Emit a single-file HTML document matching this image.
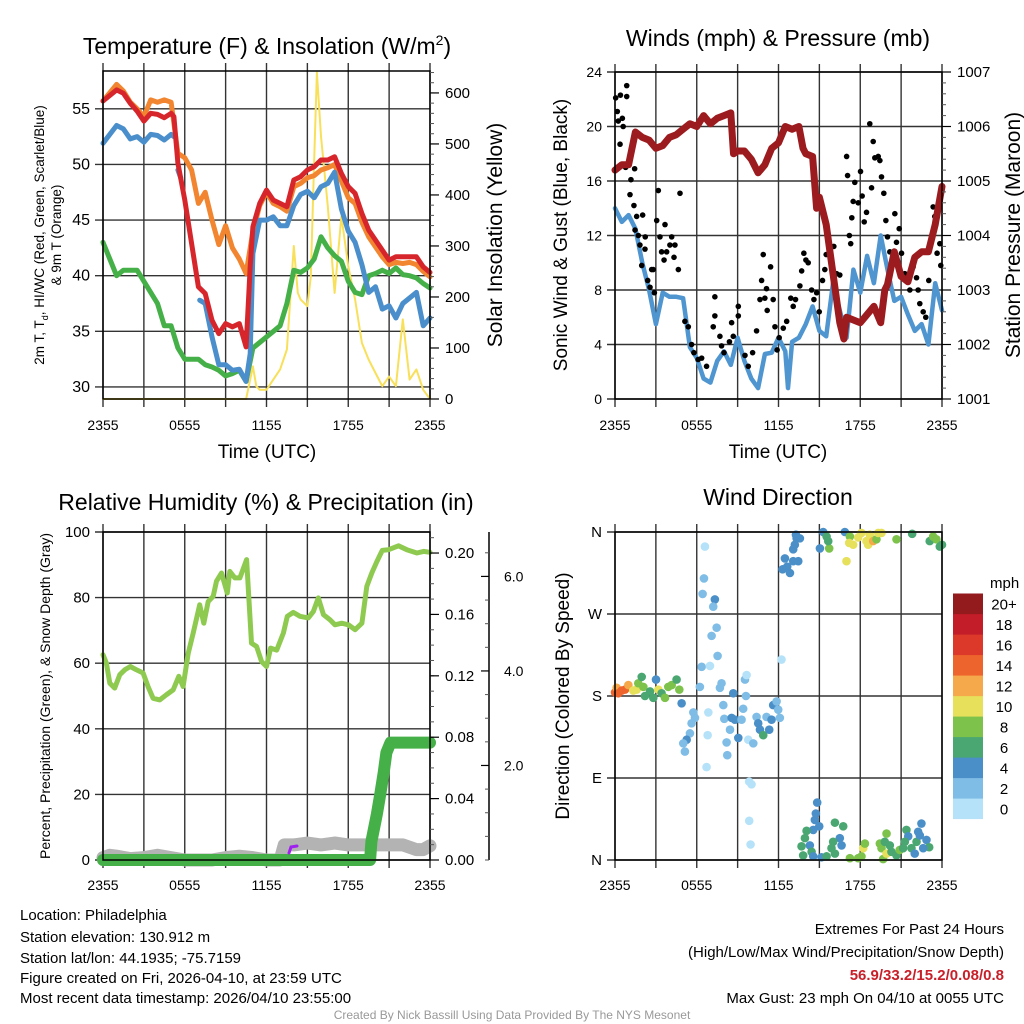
<!DOCTYPE html>
<html><head><meta charset="utf-8">
<style>
html,body{margin:0;padding:0;background:#fff;}
svg{display:block;font-family:"Liberation Sans",sans-serif;}
</style></head>
<body>
<svg id="chart" width="1024" height="1024" viewBox="0 0 1024 1024" xmlns="http://www.w3.org/2000/svg">
<rect width="1024" height="1024" fill="#fff"/>
<!-- titles -->
<text x="267" y="54" font-size="23" text-anchor="middle">Temperature (F) &amp; Insolation (W/m<tspan dy="-9" font-size="14">2</tspan><tspan dy="9">)</tspan></text>
<text x="778" y="46" font-size="23" text-anchor="middle">Winds (mph) &amp; Pressure (mb)</text>
<text x="266" y="510" font-size="23" text-anchor="middle">Relative Humidity (%) &amp; Precipitation (in)</text>
<text x="778" y="505" font-size="23" text-anchor="middle">Wind Direction</text>
<!-- axis titles -->
<text transform="translate(44,235) rotate(-90)" font-size="13.5" text-anchor="middle">2m T, T<tspan dy="4" font-size="9">d</tspan><tspan dy="-4">, HI/WC (Red, Green, Scarlet/Blue)</tspan></text>
<text transform="translate(61,235) rotate(-90)" font-size="13.5" text-anchor="middle">&amp; 9m T (Orange)</text>
<text transform="translate(502,235) rotate(-90)" font-size="21" text-anchor="middle">Solar Insolation (Yellow)</text>
<text transform="translate(567,235) rotate(-90)" font-size="19" text-anchor="middle">Sonic Wind &amp; Gust (Blue, Black)</text>
<text transform="translate(1020,235) rotate(-90)" font-size="21" text-anchor="middle">Station Pressure (Maroon)</text>
<text transform="translate(50,696) rotate(-90)" font-size="14" text-anchor="middle">Percent, Precipitation (Green), &amp; Snow Depth (Gray)</text>
<text transform="translate(569,696) rotate(-90)" font-size="19" text-anchor="middle">Direction (Colored By Speed)</text>
<text x="267" y="458" font-size="19" text-anchor="middle">Time (UTC)</text>
<text x="778" y="458" font-size="19" text-anchor="middle">Time (UTC)</text>
<!-- footer -->
<g font-size="15">
<text x="20" y="920">Location: Philadelphia</text>
<text x="20" y="942">Station elevation: 130.912 m</text>
<text x="20" y="963">Station lat/lon: 44.1935; -75.7159</text>
<text x="20" y="983">Figure created on Fri, 2026-04-10, at 23:59 UTC</text>
<text x="20" y="1003">Most recent data timestamp: 2026/04/10 23:55:00</text>
</g>
<g font-size="15" text-anchor="end">
<text x="1004" y="934">Extremes For Past 24 Hours</text>
<text x="1004" y="957">(High/Low/Max Wind/Precipitation/Snow Depth)</text>
<text x="1004" y="980" fill="#c8202a" font-weight="bold">56.9/33.2/15.2/0.08/0.8</text>
<text x="1004" y="1003">Max Gust: 23 mph On 04/10 at 0055 UTC</text>
</g>
<text x="512" y="1019" font-size="12" fill="#999" text-anchor="middle">Created By Nick Bassill Using Data Provided By The NYS Mesonet</text>
<g id="layer"></g>
</svg>
<script>
// ---------- data ----------
const xTickLabels = ["2355","0555","1155","1755","2355"];
const xTickHours = [0,6,12,18,24];
const tempTicks = [30,35,40,45,50,55];
const solarTicks = [0,100,200,300,400,500,600];
const windTicks = [0,4,8,12,16,20,24];
const presTicks = [1001,1002,1003,1004,1005,1006,1007];
const rhTicks = [0,20,40,60,80,100];
const precipTicks = [0.00,0.04,0.08,0.12,0.16,0.20];
const snowTicks = [2.0,4.0,6.0];
const dirTicks = [0,90,180,270,360];
const dirLabels = ["N","E","S","W","N"];
const speedBins = ["0","2","4","6","8","10","12","14","16","18","20+"];
const speedColors = ["#b5e2f8","#7fbde6","#4a8fc7","#4aa771","#7cc24b","#e6e05a","#f6a94a","#ee642d","#dd392b","#c21d29","#931a1d"];

const redH = [0,1,1.5,2,2.5,3,3.5,4,4.5,5,5.2,5.5,6,6.5,7,7.5,8,8.5,9,9.5,10,10.5,10.8,11,11.5,12,12.5,13,13.5,14,14.5,15,15.5,16,16.5,17,17.5,18,18.5,19,19.5,20,20.5,21,21.5,22,22.5,23,23.5,24];
const redV = [55.7,56.7,56.4,55.5,54.8,53.9,54.6,54.5,54.2,54.6,54.3,50.1,46.8,42.9,39,38.4,36,34.8,35.7,35.4,35.7,33.6,40.8,44.4,46.5,47.7,46.8,46.5,46.2,48.6,48.9,49.5,49.8,50.4,50.4,50.7,49.2,48,47.4,45.6,44.1,43.2,42.3,41.4,41.7,41.7,41.7,41.7,40.8,40.3];
const orangeH = [0,1,1.5,2,2.5,3,3.5,4,4.5,5,5.5,6,6.5,7,7.5,8,8.5,9,9.5,10,10.5,11,11.5,12,12.5,13,13.5,14,14.5,15,15.5,16,16.5,17,17.5,18,18.5,19,19.5,20,20.5,21,21.5,22,22.5,23,23.5,24];
const orangeV = [55.7,57.2,56.6,55.6,55.0,54.3,55.8,55.6,55.8,55.6,51,50.6,49.5,46.5,47.5,45,42.8,44.5,42.5,41.5,40.2,44,46.3,47.5,46.5,46.2,45.8,48,48.3,48.8,49,49.5,49.7,50,48.5,47,46.5,44.8,43.5,42.6,41.7,41,41.2,41.1,41.2,41,40.4,39.9];
const blueH = [0,1,1.5,2,2.5,3,3.5,4,4.5,5,5.2,5.4,5.5,5.7,5.8,7.1,7.5,8,8.5,9,9.5,10,10.5,10.8,11,11.5,12,12.5,13,13.5,14,14.5,15,15.5,16,16.5,17,17.5,18,18.5,19,19.5,20,20.5,21,21.5,22,22.5,23,23.5,24];
const blueV = [51.9,53.5,53.2,52.3,52.5,52,52.7,52.6,52.2,52.7,52.5,null,49.5,48.8,null,37.8,37.5,34.5,32,32,31.5,31.6,30.5,33,42,45,45,45.3,44.5,44.5,46.3,47.3,47.6,47,48,48.3,49.3,46,44,43,41,38.5,39,37,37.3,36.2,37.5,38,38.5,35.5,36.2];
const greenH = [0,0.5,1,1.5,2,2.5,3,3.5,4,4.5,5,5.5,6,6.5,7,7.5,8,8.5,9,9.5,10,10.5,11,11.5,12,12.5,13,13.5,14,14.5,15,15.5,16,16.5,17,17.5,18,18.5,19,19.5,20,20.5,21,21.5,22,22.5,23,23.5,24];
const greenV = [43,41.5,40,40.5,40.5,40.5,39.5,38.5,37.5,35.5,35.5,33.5,32.5,32.5,32.5,32,31.8,31.5,31,31.2,31.5,30.5,33.5,34,34.5,35,35.5,37.5,40.5,40.3,40.7,41.5,43.5,42.5,41.8,41.3,39.5,38.5,38.3,40,40.2,40.5,40.2,40.7,40.1,40,39.8,39.3,38.9];
const solarH = [0,10.5,11,11.25,11.5,12,12.5,13,13.5,14,14.3,14.5,15,15.25,15.5,15.7,16,16.5,17,17.5,18,18.5,19,19.5,20,20.5,21,21.5,22,22.5,23,23.5,24];
const solarV = [0,0,64,25,18,18,38,58,97,300,208,195,182,240,470,640,515,378,208,358,260,195,110,77,51,25,44,25,156,38,58,18,0];

const presH = [0,0.5,1,1.5,2,2.5,3,3.5,4,4.5,5,5.5,6,6.5,7,7.5,8,8.5,8.7,9,9.5,10,10.5,11,11.5,12,12.5,13,13.5,13.8,14,14.5,14.8,15,15.5,16,16.5,16.8,17,17.5,18,18.5,19,19.5,19.8,20,20.5,21,21.5,22,22.5,23,23.5,24];
const presV = [1005.2,1005.3,1005.3,1005.9,1005.8,1005.75,1005.6,1005.65,1005.8,1005.85,1005.95,1006.05,1006.0,1006.2,1006.05,1006.15,1006.2,1006.25,1005.5,1005.55,1005.55,1005.4,1005.15,1005.3,1005.6,1005.7,1006.0,1005.95,1006.0,1005.6,1005.5,1005.45,1004.5,1004.7,1004.2,1003.3,1002.4,1002.1,1002.5,1002.45,1002.4,1002.55,1002.7,1002.4,1003.0,1003.1,1003.7,1003.25,1003.15,1003.6,1003.7,1003.7,1004.2,1004.9];
const windH = [0,0.5,1,1.5,2,2.5,3,3.5,4,4.5,5,5.5,6,6.5,7,7.5,8,8.5,9,9.5,10,10.5,11,11.5,12,12.5,12.7,13,13.5,14,14.5,15,15.5,16,16.5,17,17.5,18,18.5,19,19.5,20,20.5,21,21.5,22,22.5,23,23.5,24];
const windV = [14,13,13.5,12.5,10,8,5.5,7.8,7.5,7.5,7.4,3.8,3,1.5,1.2,2.8,3.5,2.5,4.5,2.8,1.5,0.8,3.3,3.4,4.5,3.5,0.8,4.2,4.5,5.5,6.8,5,4.6,8.5,6.5,4.5,9.5,7.8,10.5,8.5,12,9.5,7.2,7.5,6.2,5,5.5,4,8.5,6.5];
const gustH = [0.05,0.17,0.24,0.4,0.54,0.6,0.37,0.86,0.86,0.78,1.17,1.1,1.39,1.44,1.59,2.03,1.47,1.71,1.83,2.22,2.2,1.96,2.4,2.57,2.69,2.81,2.89,3.06,3.18,3.3,3.42,3.6,3.67,3.79,4.03,4.16,4.33,4.4,4.65,4.77,5.13,5.38,5.62,5.79,6.1,6.36,6.72,7.21,7.33,7.33,7.7,7.82,8,8.4,8.56,8.68,9.05,9.05,9.54,9.78,10.1,10.39,10.64,10.76,10.88,11,11.12,11.17,11.42,11.61,11.74,11.9,12.05,12.35,12.6,12.9,13.08,13.25,13.57,13.7,13.86,14.01,14.18,14.43,14.6,14.8,14.99,15.23,15.4,15.5,15.65,15.9,16.06,16.26,16.5,17,17.07,17.2,17.3,17.38,17.48,17.6,17.85,18.02,18.14,18.29,18.46,18.7,18.83,18.95,19.07,19.32,19.44,19.56,19.73,19.88,20,20.17,20.54,20.66,20.86,21.03,21.27,21.64,21.88,22.13,22.25,22.37,22.62,22.81,23.03,23.35,23.47,23.64,23.84,23.91];
const gustV = [22.1,21.1,20.4,22.3,20.6,20,18.7,23,22.2,17,16.1,15,14.2,16.9,13.4,13.5,12.4,12,11.3,11.9,11,9.8,8.7,8.2,9.5,9.5,7.8,13.1,15.3,11.9,10.8,10.2,12.8,10.8,11.3,11.9,10.4,11.3,9.5,15.1,5.7,5.3,4,3.4,2.9,3,2.4,5.3,7.5,6.1,4.6,3.9,3.4,4.2,5.6,4.6,6.1,6.8,3.2,2.4,3.4,5,7.3,8.7,10.6,7.4,8.1,6.5,9.7,7.3,5.3,3.6,4.5,5.2,5.7,7.4,6.8,7.3,8.3,9.4,10.7,10.2,10,8,7.3,7.8,6.4,8.7,9.5,10.6,11.5,10.1,11.2,9.2,9.1,17.8,16.4,12,11.4,13.3,14.5,15.9,14.4,16.7,14.9,13,13.7,20.2,15.5,18.9,17.7,17.8,17.5,16.3,15.1,13.1,11.9,10.8,13.6,11.5,12.5,10.7,9.2,8,9.7,8.9,8,7,6.4,6,8.7,14.1,13.4,10.7,11.4,9.8];

const rhH = [0,0.25,0.5,0.86,1.23,1.6,2.0,2.45,2.94,3.3,3.68,4.17,4.66,5.15,5.56,5.88,6.25,6.62,7.1,7.4,7.72,8.09,8.33,8.7,9.12,9.31,9.68,10.05,10.54,10.9,11.27,11.64,12.0,12.3,12.75,13.24,13.53,13.97,14.46,15.07,15.44,15.8,16.18,16.67,17.03,17.52,18.01,18.5,19.0,19.36,19.73,20.1,20.5,20.96,21.69,22.3,23.04,23.53,24];
const rhV = [62.6,60,53.9,52.4,56.5,58,59,58,57,52.9,49.3,48.8,50.4,51.9,56,52.9,63,69.2,77.8,72.2,78.8,80.4,85,87.5,81.4,88,86,86,91.6,66.1,65.1,60.5,59,64.6,64,69.2,74.3,75.5,74.3,73.8,75.8,79.9,74.8,73.2,71.7,72.2,71.7,70.2,72.2,83.4,87.5,91,94.4,94.6,95.8,94.6,93.6,94.1,93.8];
const precipH = [0,19.6,19.7,20.1,20.35,20.6,20.8,21.1,24];
const precipV = [0,0,0.012,0.03,0.043,0.057,0.07,0.0765,0.0765];
const snowH = [0,0.5,1,2,3,4,5,6,7,8,9,10,11,12,13,13.3,14,15,16,17,18,19,20,21,22,23,23.5,24];
const snowV = [0.05,0.1,0.08,0.03,0.05,0.1,0.05,0,0,0,0.05,0.08,0.05,0,0,0.32,0.32,0.36,0.32,0.36,0.32,0.32,0.32,0.32,0.32,0.22,0.22,0.3];

const dirH = [0,0.12,0.24,0.49,0.73,0.98,1.34,1.59,1.71,1.96,2.08,2.2,2.57,2.81,3.01,3.18,3.42,3.67,3.91,4.16,4.52,4.72,4.89,
6.23,6.36,6.97,6.85,6.8,6.72,5.75,5.87,5.62,5.5,5.26,5.01,5.13,6.6,6.53,6.43,7.33,7.21,7.46,7.09,7.53,7.82,7.7,7.95,8.02,8.56,8.44,8.19,8.24,8.68,8.8,9.05,9.29,9.41,9.54,9.66,9.61,9.78,10.15,10.39,10.51,10.64,10.88,11.12,11.32,11.49,11.61,11.86,12.1,11.98,12.22,9.85,10.02,9.85,9.95,
12.47,12.3,12.64,12.84,13.08,13.45,13.08,13.2,13.33,13.57,13.28,
15.28,15.04,15.53,15.72,15.65,16.87,16.99,17.24,17.19,17.48,17.85,18.09,18.46,18.58,18.7,18.95,19.19,19.32,19.56,20.66,21.81,23.1,23.35,23.59,23.84,24,
14.84,14.74,14.67,14.99,14.55,14.06,13.94,14.3,13.69,14.43,13.81,14.55,15.16,15.53,16.14,16.75,16.5,16.63,16.01,15.89,16.14,17.24,17.85,18.09,18.22,18.34,19.44,19.56,19.68,19.93,19.8,20.17,19.93,20.29,20.66,20.9,21.15,21.39,21.52,21.27,21.76,22.0,22.13,22.25,22.49,22.37,22.86,23.06,22.62];
const dirDeg = [184,189,183,186,187,192,186,187,194,201,190,180,185,178,198,187,183,178,190,192,198,187,172,
190,212,213,162,137,102,162,156,150,139,132,128,119,344,309,292,286,278,255,246,224,194,189,170,155,156,143,129,115,183,154,134,154,166,198,203,180,132,128,157,150,143,137,157,143,154,170,174,156,165,220,86,83,43,17,
331,319,322,315,328,328,341,346,353,353,357,
360,342,355,342,350,360,328,355,348,346,354,359,350,346,357,350,352,359,359,352,358,350,355,352,344,346,
63,51,44,37,33,32,24,16,15,9,5,4,3,4,41,37,24,16,20,13,7,2,2,4,13,18,18,13,1,29,20,16,7,9,5,11,13,33,26,20,13,7,20,31,40,27,22,14,13];
const dirSpd = [14,12,14,14,14,12,10,10,8,6,8,6,6,6,4,10,6,8,8,8,6,8,4,
2,2,0,0,0,0,2,2,2,2,4,2,2,0,2,2,4,2,2,2,2,2,2,2,2,4,2,2,2,4,4,4,2,2,2,0,2,0,2,2,4,4,6,2,4,4,4,2,2,2,0,0,0,0,0,
4,4,4,4,4,4,4,4,4,4,4,
4,4,6,8,6,4,10,8,10,10,10,10,10,10,10,12,8,10,10,8,6,6,8,8,6,6,
4,4,4,4,4,6,6,4,6,6,6,4,4,6,6,6,4,4,6,6,6,8,8,8,10,8,8,8,8,8,6,6,10,6,6,8,6,6,4,6,6,4,6,4,4,4,4,6,4];

// ---------- drawing ----------
const NS = "http://www.w3.org/2000/svg";
const layer = document.getElementById("layer");
function el(tag, attrs, parent) {
  const e = document.createElementNS(NS, tag);
  for (const k in attrs) e.setAttribute(k, attrs[k]);
  (parent || layer).appendChild(e);
  return e;
}
const P1 = {x0:103,x1:430,y0:71,y1:399};
const P2 = {x0:615,x1:942,y0:72,y1:399};
const P3 = {x0:103,x1:430,y0:532,y1:860};
const P4 = {x0:615,x1:942,y0:532,y1:860};
function xScale(p, h) { return p.x0 + h / 24 * (p.x1 - p.x0); }
function yScale(p, v, lo, hi) { return p.y1 - (v - lo) / (hi - lo) * (p.y1 - p.y0); }
const TEMP = [28.92, 58.4], SOLAR = [0, 643], WIND = [0, 24], PRES = [1001, 1007];
const RH = [0, 100], PRECIP = [0, 0.2137], SNOW = [0, 6.94], DIR = [0, 360];

function grid(p, yVals, lo, hi, name) {
  const g = el("g", {});
  
  
  for (let i = 0; i <= 8; i++) {
    const x = xScale(p, i * 3);
    el("line", {x1:x, y1:p.y0 - 8, x2:x, y2:p.y1 + 8, stroke:"#333", "stroke-width":1.4}, g);
  }
  yVals.forEach(v => {
    const y = yScale(p, v, lo, hi);
    el("line", {x1:p.x0 - 8, y1:y, x2:p.x1, y2:y, stroke:"#333", "stroke-width":1.4}, g);
  });
}
function frame(p, name) {
  const r = el("rect", {x:p.x0, y:p.y0, width:p.x1 - p.x0, height:p.y1 - p.y0, fill:"none", stroke:"#000", "stroke-width":1.5});
  
  
}
function xLabels(p, y, name) {
  const g = el("g", {"font-size":14, "text-anchor":"middle"});
  
  
  xTickHours.forEach((h, i) => {
    const t = el("text", {x:xScale(p, h), y:y}, g);
    t.textContent = xTickLabels[i];
  });
}
function leftLabels(p, vals, lo, hi, fmt, name, fs) {
  const g = el("g", {"font-size":fs || 15, "text-anchor":"end"});
  
  
  vals.forEach((v, i) => {
    const t = el("text", {x:p.x0 - 13, y:yScale(p, v, lo, hi) + 5}, g);
    t.textContent = fmt(v, i);
  });
}
function rightAxis(p, vals, lo, hi, fmt, name, minorStep) {
  const g = el("g", {"font-size":15});
  
  
  for (let v = lo - lo % minorStep; v <= hi; v += minorStep) {
    const y = yScale(p, v, lo, hi);
    if (y < p.y0 - 0.5 || y > p.y1 + 0.5) continue;
    el("line", {x1:p.x1, y1:y, x2:p.x1 + 4, y2:y, stroke:"#555", "stroke-width":1}, g);
  }
  vals.forEach(v => {
    const y = yScale(p, v, lo, hi);
    el("line", {x1:p.x1, y1:y, x2:p.x1 + 9, y2:y, stroke:"#000", "stroke-width":1.2}, g);
    const t = el("text", {x:p.x1 + 15, y:y + 5}, g);
    t.textContent = fmt(v);
  });
}
function line(p, H, V, lo, hi, color, w, name, cap) {
  let d = "", pen = false;
  H.forEach((h, i) => {
    if (V[i] === null) { pen = false; return; }
    d += (pen ? "L" : "M") + xScale(p, h).toFixed(1) + "," + yScale(p, V[i], lo, hi).toFixed(1);
    pen = true;
  });
  const e = el("path", {d:d, fill:"none", stroke:color, "stroke-width":w, "stroke-linejoin":"round", "stroke-linecap":cap || "round"});
  
  
  return e;
}

// Panel 1: temperature
grid(P1, tempTicks, TEMP[0], TEMP[1], "temperature");
line(P1, solarH, solarV, SOLAR[0], SOLAR[1], "#f8e05a", 2, "solar-insolation-line");
line(P1, greenH, greenV, TEMP[0], TEMP[1], "#45b048", 5, "dewpoint-line");
line(P1, orangeH, orangeV, TEMP[0], TEMP[1], "#f2852f", 5, "temp-9m-line");
line(P1, blueH, blueV, TEMP[0], TEMP[1], "#4a8fcb", 5, "wind-chill-line");
line(P1, redH, redV, TEMP[0], TEMP[1], "#d7262b", 5, "temp-2m-line");
frame(P1, "temperature");
leftLabels(P1, tempTicks, TEMP[0], TEMP[1], v => String(v), "temperature", 16);
rightAxis(P1, solarTicks, SOLAR[0], SOLAR[1], v => String(v), "solar", 20);
xLabels(P1, 430, "temperature");

// Panel 2: wind
grid(P2, windTicks, WIND[0], WIND[1], "wind");
line(P2, windH, windV, WIND[0], WIND[1], "#4f95d0", 4.5, "sonic-wind-line");
const gg = el("g", {});


gustH.forEach((h, i) => {
  const c = el("circle", {cx:xScale(P2, h), cy:yScale(P2, gustV[i], WIND[0], WIND[1]), r:2.8, fill:"#000"}, gg);
  
  
});
line(P2, presH, presV, PRES[0], PRES[1], "#9b1b1e", 7, "pressure-line");
frame(P2, "wind");
leftLabels(P2, windTicks, WIND[0], WIND[1], v => String(v), "wind", 14);
rightAxis(P2, presTicks, PRES[0], PRES[1], v => String(v), "pressure", 0.2);
xLabels(P2, 430, "wind");

// Panel 3: humidity
grid(P3, rhTicks, RH[0], RH[1], "humidity");
line(P3, snowH, snowV, SNOW[0], SNOW[1], "#b3b3b3", 13, "snow-depth-line");
line(P3, precipH, precipV, PRECIP[0], PRECIP[1], "#45b048", 12, "precipitation-line");
line(P3, rhH, rhV, RH[0], RH[1], "#8fca50", 5, "relative-humidity-line");
const purple = el("path", {d:"M289,853 L291,847 L297,846", fill:"none", stroke:"#a020f0", "stroke-width":3, "stroke-linecap":"round"});


frame(P3, "humidity");
leftLabels(P3, rhTicks, RH[0], RH[1], v => String(v), "humidity", 15);
rightAxis(P3, precipTicks, PRECIP[0], PRECIP[1], v => v.toFixed(2), "precipitation", 0.01);
xLabels(P3, 890, "humidity");
// snow outer axis
const sg = el("g", {"font-size":14});


el("line", {x1:489, y1:P3.y0, x2:489, y2:P3.y1, stroke:"#000", "stroke-width":1.5}, sg);
for (let v = 0; v <= 6.9; v += 0.5) {
  const y = yScale(P3, v, SNOW[0], SNOW[1]);
  el("line", {x1:485, y1:y, x2:489, y2:y, stroke:"#555", "stroke-width":1}, sg);
}
snowTicks.forEach(v => {
  const y = yScale(P3, v, SNOW[0], SNOW[1]);
  el("line", {x1:481, y1:y, x2:489, y2:y, stroke:"#000", "stroke-width":1.2}, sg);
  const t = el("text", {x:504, y:y + 5}, sg);
  t.textContent = v.toFixed(1);
});

// Panel 4: direction
grid(P4, dirTicks, DIR[0], DIR[1], "direction");
const dg = el("g", {});


dirH.forEach((h, i) => {
  const bin = Math.min(10, Math.floor(dirSpd[i] / 2));
  const c = el("circle", {cx:xScale(P4, h), cy:yScale(P4, dirDeg[i], DIR[0], DIR[1]), r:4.3, fill:speedColors[bin]}, dg);
  
  
});
frame(P4, "direction");
leftLabels(P4, dirTicks, DIR[0], DIR[1], (v, i) => dirLabels[i], "direction", 15);
xLabels(P4, 890, "direction");
// colorbar
const cb = el("g", {"font-size":15});


const mph = el("text", {x:990, y:588}, cb);


mph.textContent = "mph";
speedBins.forEach((lab, i) => {
  const y = 819 - (i + 1) * 20.5;
  const r = el("rect", {x:953, y:y, width:30, height:20.6, fill:speedColors[i]}, cb);
  
  
  const t = el("text", {x:1004, y:y + 16, "text-anchor":"middle"}, cb);
  t.textContent = lab;
});
</script>
</body></html>
